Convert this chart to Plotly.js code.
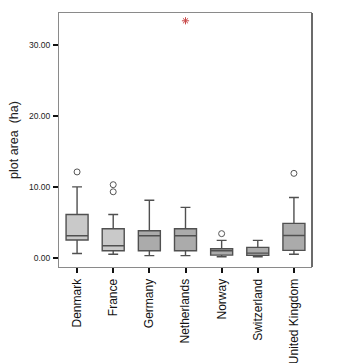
<!DOCTYPE html>
<html>
<head>
<meta charset="utf-8">
<script src="https://cdn.plot.ly/plotly-3.0.1.min.js"></script>
<style>
  html, body { margin: 0; padding: 0; background: #fff; }
  #chart { width: 349px; height: 363px; }
</style>
</head>
<body>
<div id="chart"></div>
<script>
// Plot area (ha) by country: five-number summaries plus outliers
const countries = ["Denmark", "France", "Germany", "Netherlands", "Norway", "Switzerland", "United Kingdom"];
const lowerWhisker = [0.6, 0.5, 0.3, 0.3, 0.14, 0.14, 0.5];
const q1           = [2.5, 1.0, 1.0, 1.0, 0.38, 0.34, 1.04];
const medians      = [3.1, 1.7, 3.1, 3.1, 1.0, 0.66, 3.15];
const q3           = [6.1, 4.1, 3.8, 4.1, 1.27, 1.47, 4.85];
const upperWhisker = [10.0, 6.1, 8.1, 7.1, 2.45, 2.45, 8.5];
const boxFills     = ["#c9c9c9", "#c9c9c9", "#ababab", "#ababab", "#ababab", "#ababab", "#ababab"];

// Mild outliers (open circles)
const outlierCountry = ["Denmark", "France", "France", "Norway", "United Kingdom"];
const outlierValue   = [12.1, 10.3, 9.3, 3.4, 11.9];

// Extreme outlier (asterisk)
const extremeCountry = ["Netherlands"];
const extremeValue   = [33.4];

const traces = countries.map((c, i) => ({
  type: "box",
  x: [c],
  q1: [q1[i]],
  median: [medians[i]],
  q3: [q3[i]],
  lowerfence: [lowerWhisker[i]],
  upperfence: [upperWhisker[i]],
  fillcolor: boxFills[i],
  line: { color: "#505050", width: 1.4 },
  whiskerwidth: 0.45,
  boxpoints: false,
  hoverinfo: "skip",
  showlegend: false
}));

traces.push({
  type: "scatter",
  mode: "markers",
  x: outlierCountry,
  y: outlierValue,
  marker: { symbol: "circle-open", size: 6, color: "#555555", line: { width: 1 } },
  showlegend: false,
  hoverinfo: "skip"
});

traces.push({
  type: "scatter",
  mode: "markers",
  x: extremeCountry,
  y: extremeValue,
  marker: { symbol: "asterisk-open", size: 6, color: "#c84848", line: { width: 1, color: "#c84848" } },
  showlegend: false,
  hoverinfo: "skip"
});

const layout = {
  width: 349,
  height: 363,
  margin: { l: 59, r: 37, t: 13, b: 96 },
  paper_bgcolor: "#ffffff",
  plot_bgcolor: "#ffffff",
  font: { family: "Liberation Sans, Arial, sans-serif", color: "#222222" },
  boxmode: "overlay",
  boxgap: 0.13,
  xaxis: {
    type: "category",
    categoryorder: "array",
    categoryarray: countries,
    range: [-0.5, 6.5],
    tickangle: -90,
    ticks: "outside",
    ticklen: 5,
    tickwidth: 2,
    tickcolor: "#111111",
    tickfont: { size: 12, color: "#111111" },
    ticklabelstandoff: 1,
    showline: true,
    linecolor: "#8a8a8a",
    linewidth: 1,
    mirror: true,
    showgrid: false,
    zeroline: false,
    fixedrange: true
  },
  yaxis: {
    range: [-1.3, 34.5],
    tickvals: [0, 10, 20, 30],
    tickformat: ".2f",
    ticks: "outside",
    ticklen: 5,
    tickwidth: 2,
    tickcolor: "#111111",
    tickfont: { size: 8.5, color: "#222222" },
    ticklabelstandoff: 1,
    showline: true,
    linecolor: "#8a8a8a",
    linewidth: 1,
    showgrid: false,
    zeroline: false,
    title: { text: "plot area  (ha)", font: { size: 12.5, color: "#222222" }, standoff: 7 },
    fixedrange: true
  },
  shapes: [{
    type: "line", xref: "paper", yref: "paper",
    x0: 1, x1: 1, y0: 0, y1: 1,
    line: { color: "#3a3a3a", width: 1.5 }
  }]
};

Plotly.newPlot("chart", traces, layout, { staticPlot: true, displayModeBar: false });
</script>
</body>
</html>
